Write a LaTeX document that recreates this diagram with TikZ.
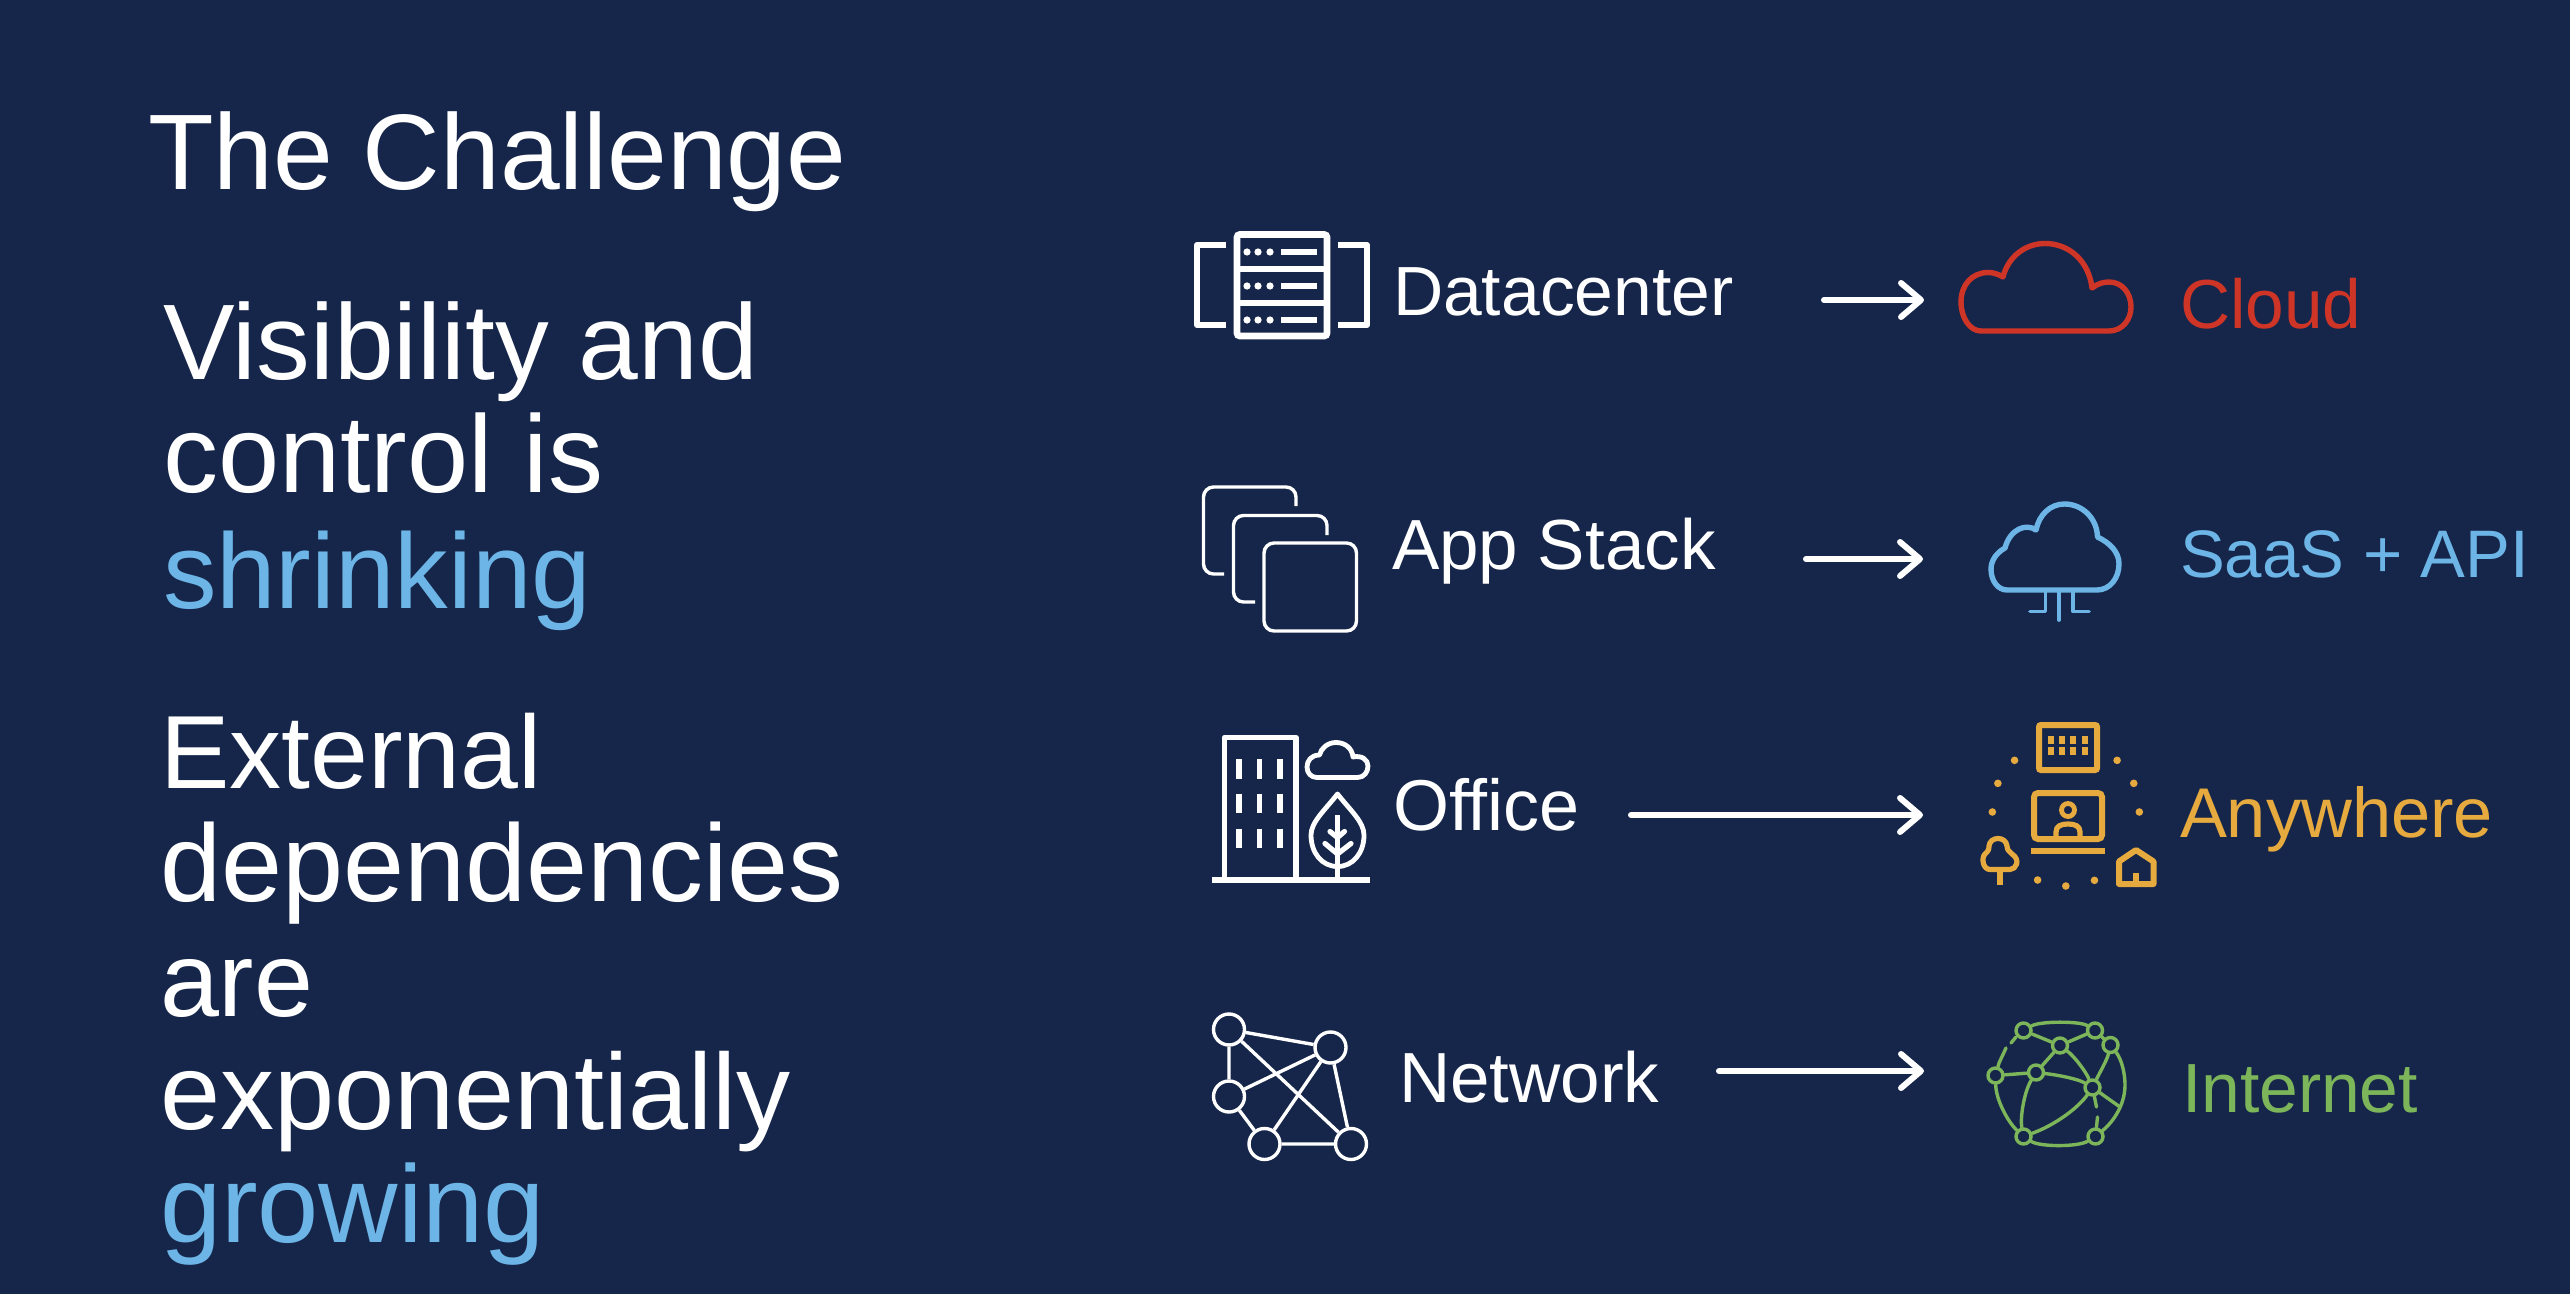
\documentclass[tikz,border=0pt]{standalone}
\usepackage{fontspec}
\setmainfont{Liberation Sans}
\usetikzlibrary{arrows.meta}
\definecolor{bg}{HTML}{16264A}
\definecolor{cblue}{HTML}{6CB5E6}
\definecolor{cred}{HTML}{CF3527}
\definecolor{cgold}{HTML}{E6AA3E}
\definecolor{cgreen}{HTML}{7DB65A}
\newcommand{\fsz}[1]{\fontsize{#1}{#1}\selectfont}
\tikzset{
  txt/.style={anchor=base west,inner sep=0pt,outer sep=0pt,text=white},
  lab/.style={txt,font=\fsz{34.8}},
  flow/.style={white,line width=3pt,line cap=round,-{Straight Barb[length=10pt,width=17pt,round]}},
  ico/.style={line width=2.7pt,line join=round},
  netnode/.style={circle,draw=white,line width=1.7pt,minimum size=15.5pt,inner sep=0pt},
  globe/.style={circle,draw=cgreen,line width=1.7pt,minimum size=7.5pt,inner sep=0pt},
  gl/.style={cgreen,line width=1.7pt,line cap=round}
}
\begin{document}
\begin{tikzpicture}[x=0.5pt,y=-0.5pt]
\fill[bg] (0,0) rectangle (2570,1294);
\useasboundingbox (0,0) rectangle (2570,1294);
% left text
\node[txt,font=\fsz{53.7}] (title) at (148,190) {The Challenge};
\node[txt,font=\fsz{53.7}] (t1) at (163,380) {Visibility and};
\node[txt,font=\fsz{55}] (t2) at (163,493) {control is};
\node[txt,font=\fsz{53.5},text=cblue] (t3) at (163,608) {shrinking};
\node[txt,font=\fsz{52}] (t4) at (160,788) {External};
\node[txt,font=\fsz{54.9}] (t5) at (160,901) {dependencies};
\node[txt,font=\fsz{53}] (t6) at (160,1016) {are};
\node[txt,font=\fsz{54}] (t7) at (160,1129) {exponentially};
\node[txt,font=\fsz{55},text=cblue] (t8) at (160,1242) {growing};
% middle labels
\node[lab] (l1) at (1393,316) {Datacenter};
\node[lab,font=\fsz{35.5}] (l2) at (1392,569) {App Stack};
\node[lab,font=\fsz{36}] (l3) at (1393,830) {Office};
\node[lab,font=\fsz{35.5}] (l4) at (1399,1102) {Network};
% right labels
\node[lab,text=cred,font=\fsz{34.7}] (r1) at (2180,329) {Cloud};
\node[lab,text=cblue,font=\fsz{33.6}] (r2) at (2180,577) {SaaS + API};
\node[lab,text=cgold,font=\fsz{35.2}] (r3) at (2180,837) {Anywhere};
\node[lab,text=cgreen,font=\fsz{34.8}] (r4) at (2182,1112) {Internet};
% arrows
\coordinate (a1s) at (1824,300); \coordinate (a1e) at (1924,300);
\coordinate (a2s) at (1806,559); \coordinate (a2e) at (1923,559);
\coordinate (a3s) at (1631,815); \coordinate (a3e) at (1923,815);
\coordinate (a4s) at (1719,1071); \coordinate (a4e) at (1924,1071);
\draw[flow] (a1s) -- (a1e);
\draw[flow] (a2s) -- (a2e);
\draw[flow] (a3s) -- (a3e);
\draw[flow] (a4s) -- (a4e);
% datacenter icon
\draw[white,line width=3.4pt,rounded corners=1.5pt] (1237,234.5) rectangle (1327,336);
\draw[white,line width=3.4pt] (1237,269) -- (1327,269) (1237,303) -- (1327,303);
\foreach \y in {252,286,320}{
  \foreach \x in {1247,1258,1270}{\fill[white] (\x,\y) circle (3.6);}
  \draw[white,line width=2.8pt] (1281,\y) -- (1317,\y);
}
\draw[white,line width=3pt,line join=round] (1226,245) -- (1197,245) -- (1197,325) -- (1226,325);
\draw[white,line width=3pt,line join=round] (1338,245) -- (1367,245) -- (1367,325) -- (1338,325);
% app stack icon
\draw[white,line width=1.7pt,rounded corners=5pt] (1296,506) -- (1296,487) -- (1203.5,487) -- (1203.5,574) -- (1224,574);
\draw[white,line width=1.7pt,rounded corners=5pt] (1327,535) -- (1327,515.5) -- (1233.5,515.5) -- (1233.5,602) -- (1255,602);
\draw[white,line width=1.7pt,rounded corners=5pt] (1264,543) rectangle (1356.5,631);
% office icon
\draw[white,ico] (1224.5,880) -- (1224.5,737.5) -- (1296,737.5) -- (1296,880);
\draw[white,line width=3.2pt] (1212,880) -- (1369.5,880);
\foreach \x in {1239,1259.5,1280}{
  \draw[white,line width=2.8pt] (\x,759) -- (\x,778.5) (\x,793.5) -- (\x,812.5) (\x,828.5) -- (\x,847.5);
}
\draw[white,line width=2.4pt,line join=round] (1317,777.5) -- (1357.5,777.5) .. controls (1364,777.5) and (1368,772) .. (1368,766) .. controls (1368,760) and (1362,755) .. (1353,757) .. controls (1352,748) and (1345,742.5) .. (1336,742.5) .. controls (1328,742.5) and (1321,748) .. (1319.5,755) .. controls (1311,755) and (1307,761) .. (1307,767) .. controls (1307,773) and (1311,777.5) .. (1317,777.5) -- cycle;
\draw[white,line width=2.4pt,line join=round] (1337.5,794) .. controls (1325,810) and (1311,822) .. (1311,835) .. controls (1311,853) and (1322,866.5) .. (1337.5,866.5) .. controls (1353,866.5) and (1364,853) .. (1364,835) .. controls (1364,822) and (1350,810) .. (1337.5,794) -- cycle;
\draw[white,line width=2.4pt] (1337.5,815) -- (1337.5,878);
\draw[white,line width=2.6pt,line cap=round] (1330,831.5) -- (1337.5,837.5) -- (1344.5,831.5) (1325,843.5) -- (1337.5,854) -- (1351,843.5);
% network icon
\node[netnode] (na) at (1229,1029.5) {};
\node[netnode] (nb) at (1330.5,1047.5) {};
\node[netnode] (nc) at (1229,1096.5) {};
\node[netnode] (nd) at (1264.5,1144) {};
\node[netnode] (ne) at (1351,1144) {};
\draw[white,line width=1.7pt] (na)--(nb) (na)--(nc) (na)--(ne) (nb)--(nc) (nb)--(nd) (nb)--(ne) (nc)--(nd) (nd)--(ne);
% red cloud
\draw[cred,ico] (1981,331) -- (2109,331) .. controls (2122,331) and (2131,320) .. (2131,307) .. controls (2131,293) and (2122,282) .. (2109,282) .. controls (2103,282) and (2097,284) .. (2092,288) .. controls (2089,262) and (2070,243.5) .. (2045,243.5) .. controls (2025,243.5) and (2008,257) .. (2003,277) .. controls (1998,274) and (1993,272.5) .. (1988,272.5) .. controls (1972,272.5) and (1961,285) .. (1961,302) .. controls (1961,318) and (1970,331) .. (1981,331) -- cycle;
% blue cloud
\draw[cblue,ico] (2007,590) -- (2097,590) .. controls (2110,590) and (2119,578) .. (2119,564) .. controls (2119,552) and (2110,543) .. (2097.5,537) .. controls (2097,518) and (2082,504) .. (2064.5,504) .. controls (2050,504) and (2039,515) .. (2036,530) .. controls (2026,523) and (2010,529) .. (2005,548) .. controls (1996,553) and (1991,561) .. (1991,569) .. controls (1991,581) and (1998,590) .. (2007,590) -- cycle;
\draw[cblue,line width=1.9pt,line join=round,line cap=round] (2059,590) -- (2059,620) (2045.5,590) -- (2045.5,611.5) -- (2030,611.5) (2073,590) -- (2073,611.5) -- (2089,611.5);
% anywhere icon
\draw[cgold,line width=3pt,rounded corners=1pt] (2039,725) rectangle (2097,770);
\foreach \x in {2050.5,2062,2073,2085}{\foreach \y in {739.5,750.5}{\fill[cgold] (\x-3,\y-4) rectangle (\x+3,\y+4);}}
\draw[cgold,line width=3pt,rounded corners=2pt] (2034,793) rectangle (2102,839);
\draw[cgold,line width=3pt] (2031,850.5) -- (2105,850.5);
\draw[cgold,line width=2.4pt] (2068,810) circle (6.5);
\draw[cgold,line width=2.6pt,line join=round] (2056,839) -- (2056,832) .. controls (2056,826) and (2061,824) .. (2068,824) .. controls (2075,824) and (2080,826) .. (2080,832) -- (2080,839);
\foreach \zx/\zy in {268/181,229/250,216/336,508/181,547/250,560/336,322/540,388/558,455/541}{
  \fill[cgold] ({1900+\zx/2.34},{700+\zy/3}) circle (3.8);
}
\draw[cgold,line width=2.6pt,line join=round] (1990,869.5) .. controls (1983,869.5) and (1981,858) .. (1985,854) .. controls (1988,851) and (1989,850) .. (1989,846) .. controls (1990,836) and (2006,836) .. (2007,846) .. controls (2007,850) and (2009,851) .. (2012,854) .. controls (2021,860) and (2016,869.5) .. (2010,869.5) -- cycle;
\draw[cgold,line width=2.6pt] (2000,869.5) -- (2000,885);
\draw[cgold,line width=3pt,line join=round] (2119,884) -- (2119,861.5) -- (2136,850) -- (2153.5,861.5) -- (2153.5,884) -- cycle;
\draw[cgold,line width=3pt] (2136,873) -- (2136,884);
% globe icon
\node[globe] (ga) at (2023.5,1030.5) {};
\node[globe] (gb) at (2095,1030.5) {};
\node[globe] (gc) at (2110.5,1045) {};
\node[globe] (gd) at (2060,1045.5) {};
\node[globe] (ge) at (1995.5,1075.5) {};
\node[globe] (gf) at (2036,1072.5) {};
\node[globe] (gg) at (2092.5,1087.5) {};
\node[globe] (gh) at (2023.5,1136.5) {};
\node[globe] (gi) at (2095.5,1136.5) {};
\coordinate (gx1) at (2120,1107);
\coordinate (gy1) at (1999,1063); \coordinate (gy2) at (2006,1048);
\coordinate (gz1) at (2011,1043); \coordinate (gz2) at (2016,1037);
\coordinate (gw1) at (2096.5,1107); \coordinate (gw2) at (2097.5,1117);
\draw[gl] (ga) -- (gd);
\draw[gl] (gb) -- (gd);
\draw[gl] (gd) -- (gf);
\draw[gl] (ge) -- (gf);
\draw[gl] (gb) -- (gc);
\draw[gl] (ga) .. controls (2040,1021) and (2080,1021) .. (gb);
\draw[gl] (gd) .. controls (2075,1057) and (2086,1072) .. (gg);
\draw[gl] (gf) .. controls (2058,1075) and (2078,1079) .. (gg);
\draw[gl] (gc) .. controls (2107,1060) and (2100,1072) .. (gg);
\draw[gl] (gc) .. controls (2122,1060) and (2125,1074) .. (2125,1085) .. controls (2125,1105) and (2113,1122) .. (gi);
\draw[gl] (ge) .. controls (1996,1100) and (2008,1122) .. (gh);
\draw[gl] (gf) .. controls (2024,1092) and (2020,1118) .. (gh);
\draw[gl] (gg) .. controls (2078,1108) and (2055,1125) .. (gh);
\draw[gl] (gh) .. controls (2040,1147) and (2078,1147) .. (gi);
\draw[gl] (gg) -- (gx1);
\draw[gl] (gg) -- (gw1);
\draw[gl] (gw2) -- (gi);
\draw[gl] (ge) -- (gy1) -- (gy2);
\draw[gl] (gz1) -- (gz2);
\end{tikzpicture}
\end{document}
